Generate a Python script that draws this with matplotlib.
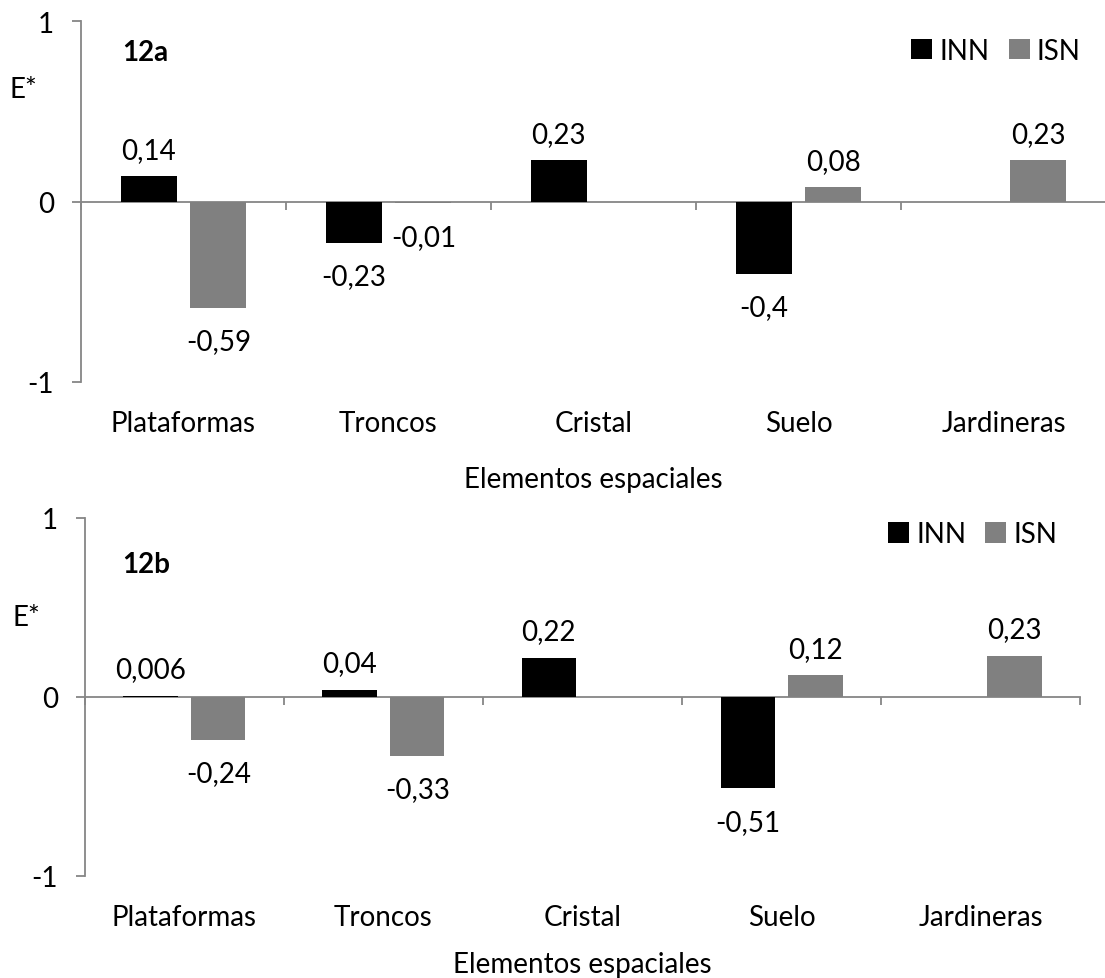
import numpy as np
import matplotlib.pyplot as plt

plt.rcParams['font.family'] = ['Lato', 'DejaVu Sans']
plt.rcParams['axes.unicode_minus'] = False

categorias = ['Plataformas', 'Troncos', 'Cristal', 'Suelo', 'Jardineras']
inn_12a = [0.14, -0.23, 0.23, -0.4, np.nan]
isn_12a = [-0.59, -0.01, np.nan, 0.08, 0.23]
inn_12b = [0.006, 0.04, 0.22, -0.51, np.nan]
isn_12b = [-0.24, -0.33, np.nan, 0.12, 0.23]

GRIS_EJE = '#868686'
GRIS_ISN = '#808080'
FS = 20


def fmt(v):
    return str(v).replace('.', ',')


def panel(ax, inn, isn, tag, tag_y, cat_y, title_y, leg_anchor):
    x = np.arange(len(categorias))
    w = 0.273
    off = 0.17
    for vals, dx, color, name in [(inn, -off, 'black', 'INN'), (isn, off, GRIS_ISN, 'ISN')]:
        ax.bar(x + dx, vals, w, color=color, label=name, zorder=3)
        for xi, v in zip(x, vals):
            if np.isnan(v):
                continue
            ax.annotate(fmt(v), (xi + dx, v), xytext=(0, 19 if v >= 0 else -24),
                        textcoords='offset points', ha='center', va='center', fontsize=FS)

    ax.set_xlim(-0.5, len(categorias) - 0.5)
    ax.set_ylim(-1, 1)
    ax.set_yticks([-1, 0, 1])
    ax.set_yticklabels(['-1', '0', '1'])

    for s in ['top', 'right']:
        ax.spines[s].set_visible(False)
    ax.spines['left'].set_color(GRIS_EJE)
    ax.spines['bottom'].set_color(GRIS_EJE)
    ax.spines['bottom'].set_position(('data', 0))
    ax.spines['left'].set_linewidth(1.3)
    ax.spines['bottom'].set_linewidth(1.3)

    # marcas entre categorias
    ax.set_xticks([])
    ax.set_xticks(np.arange(-0.5, len(categorias)), minor=True)
    ax.tick_params(axis='x', which='minor', direction='out', length=6, color=GRIS_EJE, width=1.3)
    ax.tick_params(axis='y', direction='out', length=6.5, color=GRIS_EJE, width=1.3,
                   labelsize=FS, pad=13)

    tr = ax.get_xaxis_transform()
    for xi, c in zip(x, categorias):
        ax.text(xi, cat_y, c, transform=tr, ha='center', va='center', fontsize=FS)
    ax.text(0.5, title_y, 'Elementos espaciales', transform=ax.transAxes,
            ha='center', va='center', fontsize=FS)
    ax.text(tag[1], tag_y, tag[0], transform=ax.transAxes, ha='left', va='center',
            fontsize=FS, fontweight='bold')

    ax.legend(loc='center right', bbox_to_anchor=leg_anchor, ncol=2, frameon=False,
              fontsize=FS, handlelength=0.75, handleheight=0.75, handletextpad=0.25,
              columnspacing=0.7, borderaxespad=0, borderpad=0)


fig = plt.figure(figsize=(11.05, 9.79), dpi=100)
ax1 = fig.add_axes([0.0733, 0.6088, 0.9276, 0.3687])
ax2 = fig.add_axes([0.0769, 0.1042, 0.9005, 0.3657])

panel(ax1, inn_12a, isn_12a, ('12a', 0.04), 0.914, -0.114, -0.269, (0.975, 0.917))
panel(ax2, inn_12b, isn_12b, ('12b', 0.037), 0.872, -0.115, -0.246, (0.977, 0.955))

fig.text(0.021, 0.908, 'E*', ha='center', va='center', fontsize=FS)
fig.text(0.0235, 0.369, 'E*', ha='center', va='center', fontsize=FS)

fig.savefig('out.png', dpi=100)
